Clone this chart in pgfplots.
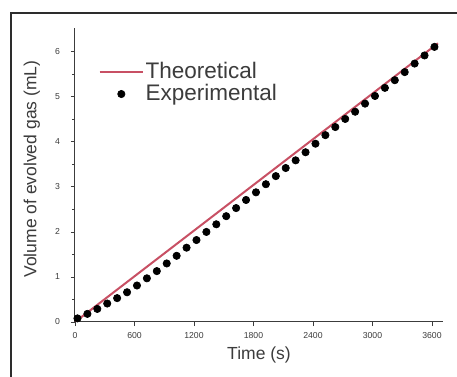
\documentclass[border=0pt]{standalone}
\usepackage{pgfplots}
\pgfplotsset{compat=1.18}
\usepackage{fontspec}
\setmainfont{Liberation Sans}
\definecolor{theo}{RGB}{200,80,100}
\definecolor{axgray}{RGB}{60,60,60}
\begin{document}
\begin{tikzpicture}
\useasboundingbox (0,0) rectangle (274.2pt,226.2pt);
\fill[white] (0,0) rectangle (274.2pt,226.2pt);
\draw[line width=0.9pt, color={rgb,255:red,45;green,45;blue,45}] (274.2pt,218.4pt) -- (6.6pt,218.4pt) -- (6.6pt,0pt);
\begin{axis}[
  at={(45pt,33pt)}, anchor=south west,
  scale only axis, width=220.8pt, height=176.4pt,
  xmin=0, xmax=3711, ymin=0, ymax=6.53,
  axis lines=left, axis line style={axgray, line width=0.6pt, -},
  xtick={0,600,...,3600}, ytick={0,1,...,6},
  minor y tick num=1,
  tick style={axgray, line width=0.5pt},
  tick align=outside,
  major tick length=2.5pt, minor tick length=1.5pt,
  /pgf/number format/assume math mode=true,
  /pgf/number format/1000 sep={},
  tick label style={font=\fontsize{5.2}{6}\selectfont, text=axgray},
  yticklabel style={xshift=-3pt},
  xticklabel style={yshift=-0.5pt},
  xlabel={Time (s)},
  ylabel={Volume of evolved gas (mL)},
  label style={font=\fontsize{10.5}{12}\selectfont, text=axgray},
  xlabel style={at={(axis description cs:0.5,-0.112)}, anchor=center},
  ylabel style={at={(axis description cs:-0.117,0.52)}, anchor=center},
  legend image code/.code={\draw[mark repeat=2,mark phase=2,#1] plot coordinates {(0pt,0pt) (13pt,0pt) (26pt,0pt)};},
  legend style={draw=none, fill=none, at={(0,1)}, anchor=north west, xshift=14pt, yshift=-19.5pt,
    inner sep=0pt, nodes={inner sep=1pt}, row sep=0pt,
    font=\fontsize{13.5}{16}\selectfont, text=axgray},
  legend cell align=left,
]
\addplot[theo, line width=1.2pt] coordinates {(0,0) (3660,6.19)};
\addlegendentry{Theoretical}
\addplot[only marks, mark=*, mark size=2.2pt, color=black] coordinates {
(25,0.08) (125,0.18) (225,0.29) (325,0.41) (425,0.53) (525,0.66) (625,0.81) (725,0.97)
(825,1.13) (925,1.30) (1025,1.47) (1125,1.65) (1225,1.82) (1325,2.00) (1425,2.17) (1525,2.35)
(1625,2.53) (1725,2.71) (1825,2.88) (1925,3.06) (2025,3.24) (2125,3.42) (2225,3.59) (2325,3.77)
(2425,3.96) (2525,4.15) (2625,4.33) (2725,4.51) (2825,4.67) (2925,4.85) (3025,5.02) (3125,5.20)
(3225,5.37) (3325,5.55) (3425,5.74) (3525,5.92) (3625,6.11)
};
\addlegendentry{Experimental}
\end{axis}
\end{tikzpicture}
\end{document}
